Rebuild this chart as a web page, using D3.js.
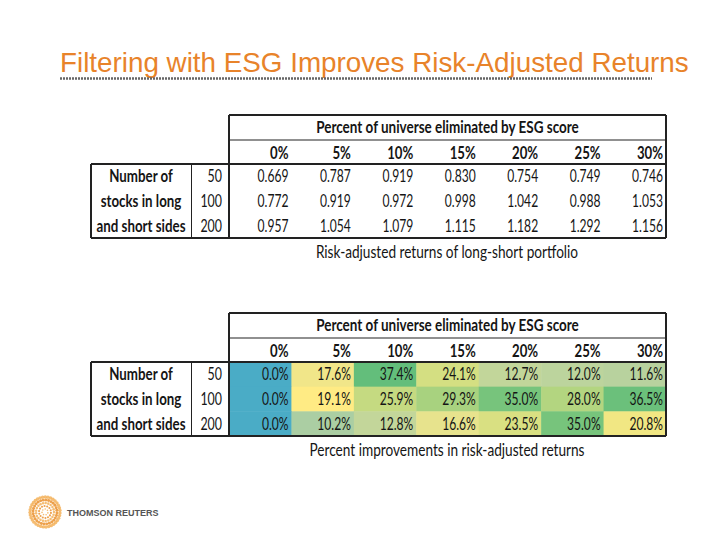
<!DOCTYPE html>
<html><head><meta charset="utf-8">
<script src="https://cdn.jsdelivr.net/npm/d3@7"></script>
<style>body{margin:0;background:#fff}svg{display:block}</style>
</head><body>
<script>
const title = "Filtering with ESG Improves Risk-Adjusted Returns";
const headerTitle = "Percent of universe eliminated by ESG score";
const columns = ["0%","5%","10%","15%","20%","25%","30%"];
const rowLabels = ["50","100","200"];
const sideLabel = ["Number of","stocks in long","and short sides"];
const returns50  = [0.669,0.787,0.919,0.830,0.754,0.749,0.746];
const returns100 = [0.772,0.919,0.972,0.998,1.042,0.988,1.053];
const returns200 = [0.957,1.054,1.079,1.115,1.182,1.292,1.156];
const improve50  = [0.0,17.6,37.4,24.1,12.7,12.0,11.6];
const improve100 = [0.0,19.1,25.9,29.3,35.0,28.0,36.5];
const improve200 = [0.0,10.2,12.8,16.6,23.5,35.0,20.8];
const caption1 = "Risk-adjusted returns of long-short portfolio";
const caption2 = "Percent improvements in risk-adjusted returns";

const W=720,H=540;
const svg=d3.select("body").append("svg").attr("width",W).attr("height",H);
const FONT="Lato, 'Open Sans', sans-serif";
const ink="#151515";
const FS=16.5, K=15.5/16.5;

svg.append("text").attr("x",60).attr("y",72).attr("font-family","'Liberation Sans', Arial, sans-serif")
  .attr("font-size",27.8).attr("fill","#e8832a").text(title);
svg.append("line").attr("x1",60).attr("x2",652).attr("y1",78.5).attr("y2",78.5)
  .attr("stroke","#666").attr("stroke-width",2.5).attr("stroke-dasharray","2,1");

const x=d3.scaleBand().domain(columns).range([229,666]);

function T(g,px,py,txt,anchor,bold,sx){
  g.append("text").attr("transform",`translate(${px},${py}) scale(${sx*K},1)`)
   .attr("text-anchor",anchor).attr("font-family",FONT).attr("font-weight",bold?"bold":"normal")
   .attr("font-size",FS).attr("fill",ink).text(txt);
}

function drawTable(top, data, fmt, colorFn, caption){
  const g=svg.append("g");
  const yTitle=top, yHead=top+25, yData=top+49, yEnd=top+123;
  const y=d3.scaleBand().domain(rowLabels).range([yData,yEnd]);
  if(colorFn){
    rowLabels.forEach((r,i)=>{
      data[i].forEach((v,j)=>{
        g.append("rect").attr("x",x(columns[j])).attr("y",y(r)).attr("width",x.bandwidth()+0.5)
         .attr("height",y.bandwidth()+0.5).attr("fill",colorFn(v,j));
      });
    });
  }
  T(g,(229+666)/2,yTitle+18,headerTitle,"middle",true,0.87);
  columns.forEach(c=>T(g,x(c)+x.bandwidth()-3,yHead+18.5,c,"end",true,0.85));
  rowLabels.forEach((r,i)=>{
    const cy=y(r)+y.bandwidth()/2+6;
    T(g,141,cy,sideLabel[i],"middle",true,0.86);
    T(g,222,cy,r,"end",false,0.8);
    data[i].forEach((v,j)=>T(g,x(columns[j])+x.bandwidth()-3,cy,fmt(v),"end",false,0.78));
  });
  T(g,447,yEnd+20,caption,"middle",false,0.88);
  const L=(x1,y1,x2,y2,w)=>g.append("line").attr("x1",x1).attr("y1",y1).attr("x2",x2).attr("y2",y2)
     .attr("stroke","#222").attr("stroke-width",w);
  L(229,yTitle,666,yTitle,2);
  L(229,yHead,666,yHead,1.2);
  L(91,yData,666,yData,2);
  L(91,yEnd,666,yEnd,2);
  L(229,yTitle,229,yEnd,2);
  L(666,yTitle,666,yEnd,2);
  L(91,yData,91,yEnd,2);
  L(191.5,yData,191.5,yEnd,1);
}

drawTable(115,[returns50,returns100,returns200],d=>d3.format(".3f")(d),null,caption1);

const allImp=improve50.concat(improve100,improve200);
const med=d3.median(allImp), mx=d3.max(allImp), mn=d3.min(allImp);
const cs=d3.scaleLinear().domain([mn,med,mx]).range(["#4aacc6","#ffeb84","#63be7b"]).interpolate(d3.interpolateRgb);
drawTable(313,[improve50,improve100,improve200],d=>d3.format(".1f")(d)+"%",v=>cs(v),caption2);

// logo
const lg=svg.append("g").attr("transform","translate(45,512)");
for(let ring=1;ring<=5;ring++){
  const r=ring*3;
  const n=ring*7;
  for(let k=0;k<n;k++){
    const a=k/n*Math.PI*2+ring*0.3;
    lg.append("circle").attr("cx",r*Math.cos(a)).attr("cy",r*Math.sin(a)).attr("r",0.6+ring*0.22)
      .attr("fill",ring%2?"#f3ac50":"#e88a20").attr("opacity",0.8);
  }
}
svg.append("text").attr("x",67).attr("y",516).attr("font-family","'Liberation Sans', Arial, sans-serif")
  .attr("font-weight","bold").attr("font-size",9).attr("fill","#555").text("THOMSON REUTERS");
</script>
</body></html>
